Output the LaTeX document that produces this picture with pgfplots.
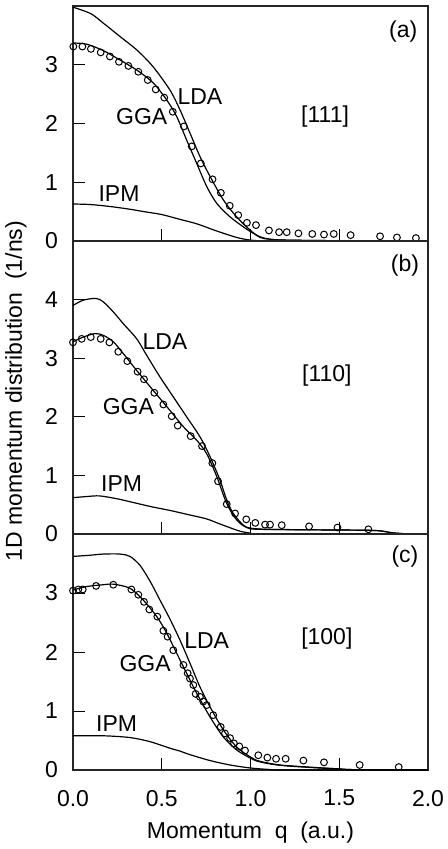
\documentclass[border=0pt]{standalone}
\usepackage{fontspec}
\setmainfont{Liberation Sans}
\usepackage{pgfplots}
\pgfplotsset{compat=1.18}

\pgfplotsset{
  panel/.style={
    scale only axis,
    width=177.5pt,
    xmin=0, xmax=2,
    ymin=0,
    xtick={0,0.5,1,1.5,2},
    xtick pos=bottom, ytick pos=left,
    tick align=inside,
    major tick length=6pt,
    axis line style={black!85, line width=0.6pt},
    tick style={black, line width=0.5pt},
    tick label style={font=\fontsize{11.5}{12}\selectfont},
    /pgf/number format/assume math mode=true,
    yticklabel style={xshift=-4pt},
    xticklabel style={yshift=-6.5pt},
    every axis plot/.append style={black, line width=0.6pt},
    clip=false,
  },
  curve/.style={smooth, tension=0.5, no marks},
  dat/.style={only marks, mark=o, mark size=1.7pt, mark options={line width=0.5pt}},
}

\begin{document}
\begin{tikzpicture}
\useasboundingbox (0,0) rectangle (223.5pt,-424.5pt);
\tikzset{lbl/.style={font=\fontsize{11.5}{12}\selectfont}}

% (a) [111]
\begin{axis}[panel, name=pa, at={(36.5pt,-3pt)}, anchor=north west,
  height=117.5pt, ymax=4, ytick={0,1,2,3}, xticklabels={}]
\addplot[curve] coordinates {(0,3.98)(0.1,3.87)(0.17,3.71)(0.265,3.48)(0.36,3.25)(0.45,2.97)(0.546,2.57)(0.603,2.23)(0.66,1.83)(0.715,1.44)(0.772,1.10)(0.847,0.70)(0.922,0.41)(1.0,0.18)(1.055,0.06)(1.11,0.03)(1.2,0.015)(1.5,0.005)(2.0,0.0)};
\addplot[curve] coordinates {(0,3.37)(0.077,3.35)(0.171,3.24)(0.265,3.08)(0.359,2.91)(0.452,2.69)(0.528,2.40)(0.584,2.12)(0.64,1.72)(0.697,1.32)(0.753,0.93)(0.81,0.64)(0.885,0.41)(0.96,0.24)(1.0,0.16)(1.055,0.07)(1.11,0.03)(1.2,0.015)(1.5,0.005)(2,0)};
\addplot[curve] coordinates {(0,0.63)(0.1,0.62)(0.2,0.59)(0.3,0.55)(0.4,0.50)(0.5,0.45)(0.6,0.37)(0.7,0.29)(0.8,0.18)(0.9,0.08)(0.95,0.04)(1.0,0.015)(1.05,0.003)(1.1,0)(2.0,0)};
\addplot[dat] coordinates {(0.002,3.31)(0.053,3.31)(0.101,3.27)(0.156,3.21)(0.208,3.14)(0.259,3.05)(0.312,2.98)(0.368,2.88)(0.421,2.74)(0.466,2.58)(0.514,2.44)(0.562,2.20)(0.625,1.95)(0.669,1.61)(0.72,1.32)(0.786,1.05)(0.833,0.82)(0.883,0.60)(0.931,0.44)(0.98,0.31)(1.031,0.27)(1.104,0.18)(1.161,0.15)(1.204,0.15)(1.27,0.13)(1.348,0.12)(1.414,0.11)(1.469,0.12)(1.564,0.10)(1.73,0.08)(1.825,0.06)(1.932,0.05)};
\node[lbl] at (axis cs:1.86,3.57) {(a)};
\node[lbl] at (axis cs:0.715,2.46) {LDA};
\node[lbl] at (axis cs:0.387,2.11) {GGA};
\node[lbl] at (axis cs:1.42,2.12) {[111]};
\node[lbl] at (axis cs:0.259,0.81) {IPM};
\end{axis}

% (b) [110]
\begin{axis}[panel, name=pb, at={(pa.south west)}, anchor=north west,
  height=146.5pt, ymax=5, ytick={0,1,2,3,4}, xticklabels={}]
\addplot[curve] coordinates {(0,3.90)(0.058,3.99)(0.13,4.02)(0.171,3.96)(0.227,3.79)(0.283,3.59)(0.359,3.33)(0.415,3.05)(0.49,2.68)(0.565,2.34)(0.64,2.00)(0.715,1.66)(0.772,1.32)(0.828,0.92)(0.866,0.58)(0.903,0.35)(0.96,0.15)(1.0,0.10)(1.1,0.08)(1.4,0.07)(1.7,0.06)(1.8,0.02)(1.9,0.0)(2,0)};
\addplot[curve] coordinates {(0,3.28)(0.058,3.36)(0.124,3.42)(0.171,3.39)(0.227,3.28)(0.283,3.08)(0.359,2.79)(0.452,2.45)(0.546,2.11)(0.622,1.83)(0.697,1.60)(0.753,1.37)(0.81,0.98)(0.866,0.52)(0.922,0.24)(0.979,0.11)(1.05,0.08)(1.4,0.07)(1.7,0.06)(1.8,0.02)(1.9,0)(2,0)};
\addplot[curve] coordinates {(0,0.62)(0.08,0.64)(0.15,0.65)(0.25,0.60)(0.35,0.53)(0.45,0.46)(0.55,0.40)(0.65,0.33)(0.75,0.26)(0.82,0.18)(0.9,0.09)(0.95,0.04)(1.0,0.015)(1.05,0.0)(2,0)};
\addplot[dat] coordinates {(0.0,3.27)(0.049,3.33)(0.1,3.36)(0.156,3.33)(0.205,3.27)(0.255,3.11)(0.306,2.95)(0.364,2.77)(0.4,2.64)(0.458,2.41)(0.509,2.21)(0.556,2.01)(0.59,1.85)(0.663,1.67)(0.727,1.50)(0.785,1.21)(0.817,0.90)(0.866,0.51)(0.913,0.35)(0.976,0.25)(1.027,0.19)(1.082,0.16)(1.11,0.16)(1.176,0.15)(1.33,0.13)(1.49,0.11)(1.664,0.08)};
\node[lbl] at (axis cs:1.87,4.58) {(b)};
\node[lbl] at (axis cs:0.518,3.28) {LDA};
\node[lbl] at (axis cs:0.312,2.17) {GGA};
\node[lbl] at (axis cs:1.43,2.71) {[110]};
\node[lbl] at (axis cs:0.274,0.86) {IPM};
\end{axis}

% (c) [100]
\begin{axis}[panel, name=pc, at={(pb.south west)}, anchor=north west,
  height=118pt, ymax=4, ytick={0,1,2,3},
  xticklabels={0.0,0.5,1.0,1.5,2.0}]
\addplot[curve] coordinates {(0,3.62)(0.096,3.64)(0.171,3.66)(0.265,3.66)(0.321,3.62)(0.377,3.47)(0.434,3.20)(0.49,2.88)(0.546,2.56)(0.603,2.20)(0.659,1.81)(0.715,1.41)(0.772,1.07)(0.847,0.68)(0.922,0.39)(1.0,0.22)(1.05,0.15)(1.166,0.085)(1.354,0.045)(1.49,0.02)(1.6,0.005)(2,0)};
\addplot[curve] coordinates {(0,3.05)(0.077,3.11)(0.171,3.14)(0.227,3.15)(0.321,3.08)(0.396,2.88)(0.472,2.60)(0.528,2.32)(0.584,1.98)(0.64,1.64)(0.697,1.30)(0.772,0.90)(0.847,0.56)(0.922,0.34)(1.0,0.20)(1.05,0.14)(1.166,0.08)(1.354,0.04)(1.49,0.02)(1.6,0.005)(2,0)};
\addplot[curve] coordinates {(0,0.58)(0.171,0.58)(0.321,0.55)(0.434,0.48)(0.546,0.37)(0.603,0.32)(0.659,0.26)(0.772,0.16)(0.885,0.085)(0.997,0.035)(1.1,0.01)(1.2,0)(2,0)};
\addplot[dat] coordinates {(0.0,3.04)(0.03,3.06)(0.055,3.06)(0.13,3.12)(0.227,3.14)(0.329,3.06)(0.368,2.97)(0.4,2.85)(0.43,2.72)(0.475,2.60)(0.509,2.36)(0.533,2.26)(0.565,2.03)(0.622,1.78)(0.646,1.64)(0.659,1.55)(0.678,1.44)(0.691,1.29)(0.715,1.24)(0.734,1.16)(0.753,1.10)(0.79,0.93)(0.832,0.73)(0.856,0.62)(0.885,0.54)(0.907,0.45)(0.937,0.40)(0.969,0.33)(1.044,0.25)(1.095,0.21)(1.144,0.19)(1.198,0.19)(1.298,0.16)(1.414,0.13)(1.615,0.085)(1.835,0.05)};
\node[lbl] at (axis cs:1.87,3.62) {(c)};
\node[lbl] at (axis cs:0.753,2.20) {LDA};
\node[lbl] at (axis cs:0.406,1.81) {GGA};
\node[lbl] at (axis cs:1.43,2.23) {[100]};
\node[lbl] at (axis cs:0.246,0.79) {IPM};
\end{axis}

\node[lbl, rotate=90] at (8pt,-195.5pt) {1D momentum distribution \ (1/ns)};
\node[lbl] at (125.25pt,-416.5pt) {Momentum \ q \ (a.u.)};
\end{tikzpicture}
\end{document}
